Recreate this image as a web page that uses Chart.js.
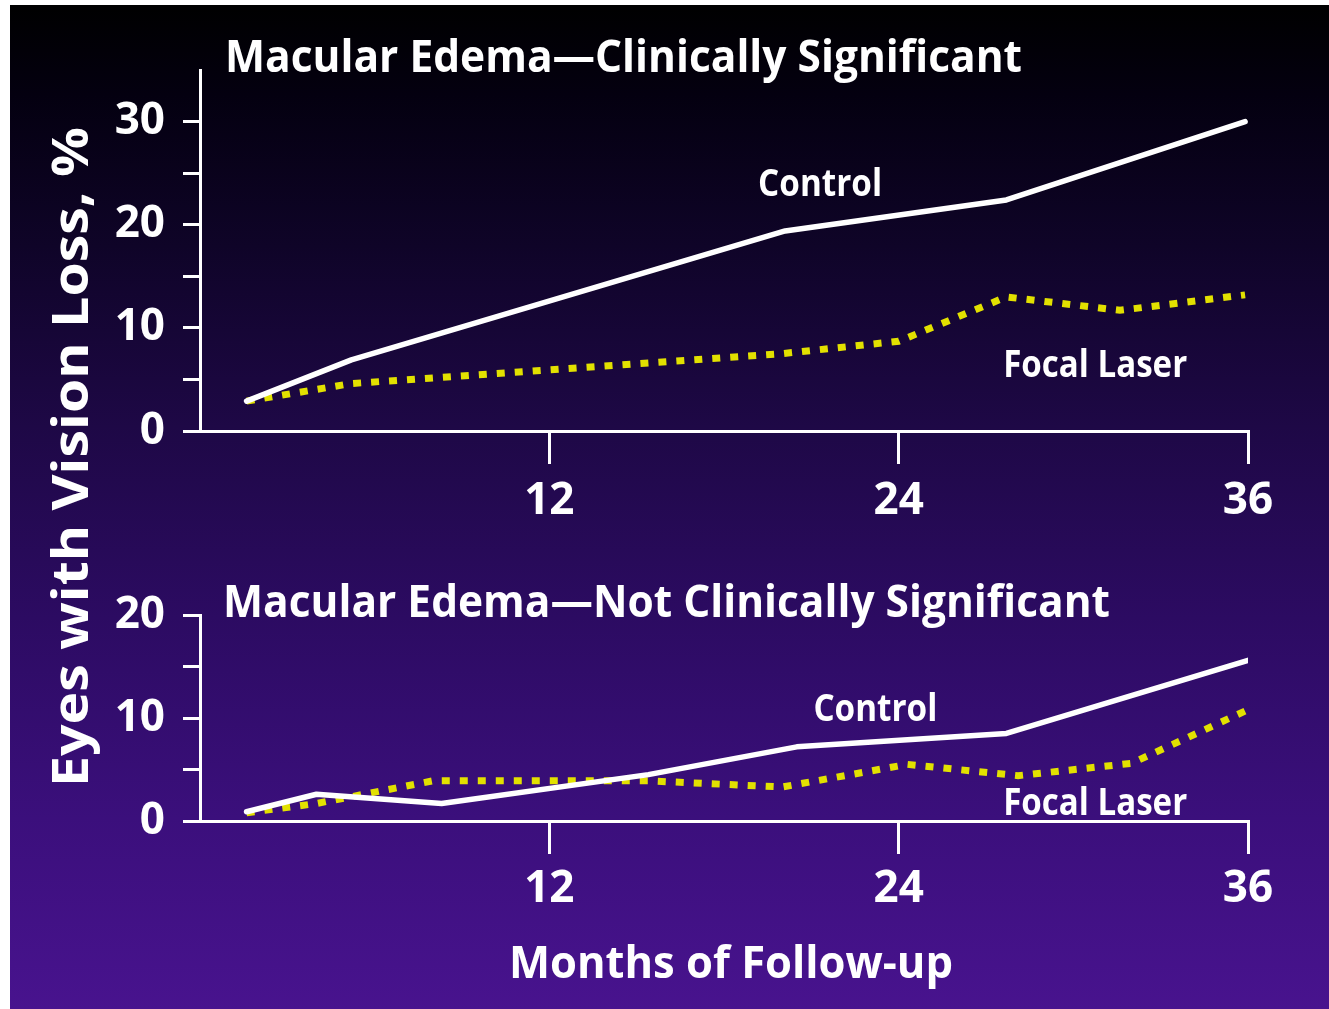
<!DOCTYPE html>
<html>
<head>
<meta charset="utf-8">
<title>Macular Edema — Vision Loss by Follow-up</title>
<script src="https://cdn.jsdelivr.net/npm/chart.js@4.4.1/dist/chart.umd.min.js"></script>
<style>
  html, body { margin: 0; padding: 0; background: #ffffff; width: 1329px; height: 1009px; overflow: hidden; }
  #bg {
    position: absolute; left: 10px; top: 5px; width: 1319px; height: 1004px;
    background: linear-gradient(to bottom,
      #000000 0%, #040010 9%, #0f0428 24%, #1e0846 42%,
      #2c0b62 61%, #3b0f7c 81%, #48138e 100%);
  }
  canvas { position: absolute; left: 0; top: 0; }
</style>
</head>
<body>
<div id="bg"></div>
<canvas id="panelTop" width="1329" height="1009"></canvas>
<canvas id="panelBottom" width="1329" height="1009"></canvas>
<script>
// Months of follow-up and % of eyes with vision loss, per panel and treatment arm
const topControlMonths = [1.6, 5.2, 20.1, 27.7, 35.9];
const topControlLoss   = [2.9, 6.9, 19.4, 22.4, 30.0];
const topLaserMonths   = [1.6, 5.2, 20.0, 24.0, 27.7, 31.6, 35.9];
const topLaserLoss     = [2.9, 4.6, 7.5, 8.7, 13.0, 11.7, 13.2];

const botControlMonths = [1.6, 4.0, 8.3, 15.4, 20.5, 27.7, 36.0];
const botControlLoss   = [0.9, 2.6, 1.7, 4.5, 7.2, 8.5, 15.6];
const botLaserMonths   = [1.6, 4.0, 8.0, 15.4, 20.0, 24.3, 28.1, 32.0, 36.0];
const botLaserLoss     = [0.8, 1.7, 3.9, 3.9, 3.3, 5.5, 4.4, 5.6, 10.8];

// Axis ticks
const monthTicks   = [12, 24, 36];
const topLossTicks = [0, 5, 10, 15, 20, 25, 30];
const botLossTicks = [0, 5, 10, 15, 20];

const FONT = '"Open Sans", "Noto Sans", "DejaVu Sans", sans-serif';
const WHITE = '#ffffff';
const YELLOW = '#e2e100';

function series(months, loss) {
  return months.map((m, i) => ({ x: m, y: loss[i] }));
}

// Draw white text, optionally squeezed to a given width and rotated
function drawText(ctx, text, x, y, size, align, width, rotate) {
  ctx.save();
  ctx.font = `700 ${size}px ${FONT}`;
  ctx.fillStyle = WHITE;
  ctx.textBaseline = 'alphabetic';
  ctx.textAlign = align;
  const w = ctx.measureText(text).width;
  ctx.translate(x, y);
  if (rotate) ctx.rotate(rotate);
  ctx.scale(width ? width / w : 1, 1);
  ctx.fillText(text, 0, 0);
  ctx.restore();
}

function textPlugin(draw) {
  return {
    id: 'panelText',
    afterDraw(chart) {
      draw(chart.ctx, chart.chartArea, chart.scales.x, chart.scales.y);
    }
  };
}

function panel(canvasId, cfg) {
  return new Chart(document.getElementById(canvasId), {
    type: 'line',
    data: {
      datasets: [
        {
          label: 'Control',
          data: series(cfg.controlMonths, cfg.controlLoss),
          borderColor: WHITE,
          borderWidth: 5.5,
          pointRadius: 0,
          tension: 0,
          borderCapStyle: 'round',
          borderJoinStyle: 'round'
        },
        {
          label: 'Focal Laser',
          data: series(cfg.laserMonths, cfg.laserLoss),
          borderColor: YELLOW,
          borderWidth: 7,
          borderDash: [8, 10],
          pointRadius: 0,
          tension: 0,
          borderCapStyle: 'butt'
        }
      ]
    },
    options: {
      responsive: false,
      animation: false,
      devicePixelRatio: 1,
      layout: { padding: cfg.padding },
      plugins: { legend: { display: false }, tooltip: { enabled: false } },
      scales: {
        x: {
          type: 'linear',
          min: 0,
          max: 36,
          afterBuildTicks: s => { s.ticks = monthTicks.map(v => ({ value: v })); },
          afterFit: s => { s.height = 90; },
          grid: { drawOnChartArea: false, drawTicks: true, tickLength: 33, color: WHITE, lineWidth: 3 },
          border: { display: true, color: WHITE, width: 3 },
          ticks: {
            color: WHITE,
            autoSkip: false,
            maxRotation: 0,
            padding: cfg.xTickPadding,
            font: { family: FONT, size: 44, weight: '700', lineHeight: 1 }
          }
        },
        y: {
          type: 'linear',
          min: 0,
          max: cfg.yMax,
          afterBuildTicks: s => { s.ticks = cfg.yTicks.map(v => ({ value: v })); },
          afterFit: s => { s.width = 200; },
          grid: { drawOnChartArea: false, drawTicks: true, tickLength: 17, color: WHITE, lineWidth: 3 },
          border: { display: true, color: WHITE, width: 3 },
          ticks: {
            color: WHITE,
            padding: 18,
            callback: v => (v % 10 === 0 ? String(v) : ''),
            font: { family: FONT, size: 44, weight: '700', lineHeight: 1 }
          }
        }
      }
    },
    plugins: [textPlugin(cfg.draw)]
  });
}

// Clinically significant macular edema
panel('panelTop', {
  controlMonths: topControlMonths, controlLoss: topControlLoss,
  laserMonths: topLaserMonths, laserLoss: topLaserLoss,
  yMax: 35, yTicks: topLossTicks,
  padding: { left: 0, right: 81, top: 70, bottom: 488 },
  xTickPadding: 15,
  draw(ctx, area, x, y) {
    drawText(ctx, 'Macular Edema\u2014Clinically Significant', area.left + 25, area.top + 2, 45, 'left', 797);
    drawText(ctx, 'Control', x.getPixelForValue(21.3), y.getPixelForValue(22.8), 37, 'center', 124);
    drawText(ctx, 'Focal Laser', x.getPixelForValue(30.75), y.getPixelForValue(5.2), 37, 'center', 184);
    // shared vertical axis title for both panels
    drawText(ctx, 'Eyes with Vision Loss, %', area.left - 112, 457, 50, 'center', 660, -Math.PI / 2);
  }
});

// Not clinically significant macular edema
panel('panelBottom', {
  controlMonths: botControlMonths, controlLoss: botControlLoss,
  laserMonths: botLaserMonths, laserLoss: botLaserLoss,
  yMax: 20, yTicks: botLossTicks,
  padding: { left: 0, right: 81, top: 615, bottom: 98 },
  xTickPadding: 13,
  draw(ctx, area, x, y) {
    drawText(ctx, 'Macular Edema\u2014Not Clinically Significant', area.left + 23, area.top + 2, 45, 'left', 887);
    drawText(ctx, 'Control', x.getPixelForValue(23.2), y.getPixelForValue(9.7), 37, 'center', 124);
    drawText(ctx, 'Focal Laser', x.getPixelForValue(30.75), y.getPixelForValue(0.6), 37, 'center', 184);
    drawText(ctx, 'Months of Follow-up', (area.left + area.right) / 2 + 7, area.bottom + 157, 45, 'center', 444);
  }
});
</script>
</body>
</html>
